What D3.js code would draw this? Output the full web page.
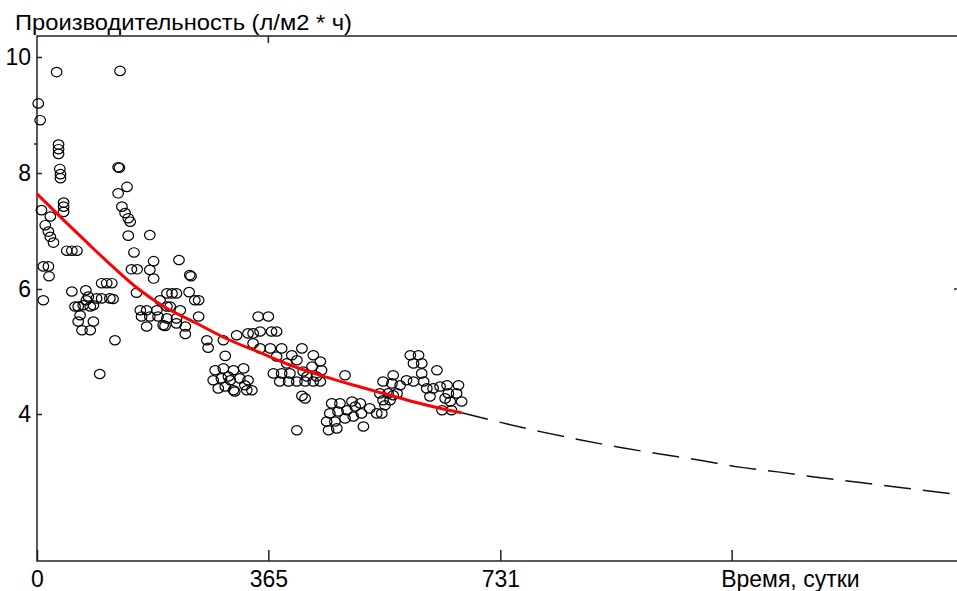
<!DOCTYPE html>
<html>
<head>
<meta charset="utf-8">
<script src="https://cdn.jsdelivr.net/npm/d3@7"></script>
<style>
  body { margin: 0; background: #fff; }
  text { font-family: "Liberation Sans", Arial, sans-serif; fill: #000; }
</style>
</head>
<body>
<script>
// ---------- data ----------
// measured points: day, productivity (l/m2*h)
var days = [31,131,2,5,34,34,34,36,37,37,128,130,142,128,42,42,42,7,134,139,144,147,21,13,18,21,26,144,178,
  47,55,63,153,10,18,19,149,158,184,178,184,224,241,243,55,77,102,110,118,157,205,213,220,240,10,255,249,
  65,78,81,89,94,102,115,120,60,73,84,163,173,194,205,210,226,189,255,68,65,89,71,84,165,178,191,205,220,
  173,199,202,220,234,234,123,268,270,294,297,99,
  281,294,310,326,278,291,305,320,333,286,310,331,297,312,339,
  315,333,341,352,370,378,349,365,341,352,368,386,402,418,436,378,394,410,447,373,386,399,420,434,449,
  383,397,410,423,436,447,426,441,486,302,328,418,423,410,
  465,478,497,510,525,536,462,475,489,502,457,470,486,499,512,460,473,515,
  546,562,541,554,568,546,557,589,602,594,607,631,607,594,610,615,625,636,647,665,620,649,662,652,670,
  639,654,560,573,562,544,549,583,644];
var prod = [9.74,9.76,9.20,8.91,8.49,8.41,8.33,8.07,7.98,7.91,8.10,8.09,7.76,7.65,7.49,7.42,7.33,7.36,7.42,7.31,7.22,7.16,7.25,7.10,6.99,6.90,6.80,6.92,6.93,
  6.66,6.66,6.66,6.63,6.39,6.39,6.22,6.34,6.34,6.48,6.33,6.18,6.50,6.24,6.22,5.96,5.98,6.10,6.10,6.10,5.94,5.93,5.93,5.93,5.95,5.82,5.82,5.82,
  5.72,5.82,5.88,5.74,5.85,5.85,5.85,5.84,5.72,5.74,5.72,5.66,5.66,5.82,5.72,5.72,5.66,5.66,5.56,5.58,5.48,5.48,5.34,5.34,5.56,5.56,5.56,5.53,5.53,
  5.40,5.42,5.41,5.45,5.40,5.28,5.18,5.18,5.06,5.18,4.93,4.64,
  4.70,4.73,4.70,4.73,4.54,4.57,4.54,4.57,4.54,4.41,4.38,4.38,4.44,4.36,4.38,
  5.26,5.29,5.29,5.32,5.32,5.32,5.56,5.56,5.13,5.05,5.05,5.05,4.94,5.05,4.94,4.92,4.81,4.86,4.84,4.65,4.65,4.65,4.68,4.76,4.70,
  4.52,4.52,4.52,4.52,4.52,4.52,4.60,4.60,4.62,4.60,4.46,4.29,4.25,3.74,
  4.17,4.17,4.20,4.17,4.09,4.01,4.01,4.04,4.06,4.12,3.88,3.88,3.93,3.96,4.01,3.74,3.77,3.80,
  4.52,4.62,4.33,4.33,4.33,4.22,4.22,4.94,4.94,4.81,4.81,4.70,4.65,4.52,4.52,4.41,4.41,4.44,4.46,4.46,4.28,4.33,4.33,4.20,4.20,
  4.06,4.06,4.49,4.46,4.30,4.01,4.14,4.54,4.25];

// fitted curve over the measured period (red)
var fitDays = [0,40,80,120,160,200,250,300,350,400,450,500,550,600,650,670];
var fitVals = [7.64,7.21,6.79,6.38,6.00,5.72,5.46,5.20,4.99,4.78,4.61,4.46,4.32,4.18,4.06,4.02];
// forecast part (dashed)
var extDays = [670,742,798,860,923,983,1046,1109,1172,1236,1302,1365,1430,1461];
var extVals = [4.02,3.84,3.71,3.58,3.46,3.36,3.26,3.15,3.07,2.98,2.90,2.82,2.74,2.70];

var xTicks = [0, 365, 731, 1096];
var xTickLabels = ["0", "365", "731", "Время, сутки"];
var yTicks = [4, 6, 8, 10];
var yLabel = "Производительность (л/м2 * ч)";

// ---------- chart ----------
var W = 957, H = 591;
var plotTop = 36, plotBottom = 561;

var x = d3.scaleLinear().domain([0, 1461]).range([37, 963]);
var y = d3.scaleLinear().domain([4, 6, 8, 10]).range([414, 289, 173, 57]);

var svg = d3.select("body").append("svg")
    .attr("width", W)
    .attr("height", H);

// frame: left, top, bottom (right edge falls outside the picture)
var frame = svg.append("path")
    .attr("d", "M" + x(1461) + "," + plotTop + "H" + x(0) + "V" + plotBottom + "H" + x(1461))
    .attr("fill", "none")
    .attr("stroke", "#222")
    .attr("stroke-width", 1.5);

// points
svg.append("g").selectAll("ellipse")
    .data(days)
    .enter().append("ellipse")
    .attr("cx", function(d) { return x(d); })
    .attr("cy", function(d, i) { return y(prod[i]); })
    .attr("rx", 5.3)
    .attr("ry", 4.7)
    .attr("fill", "none")
    .attr("stroke", "#000")
    .attr("stroke-width", 1.2);

// curves
var line = d3.line()
    .x(function(d) { return x(d[0]); })
    .y(function(d) { return y(d[1]); })
    .curve(d3.curveMonotoneX);

svg.append("path")
    .attr("d", line(extDays.map(function(d, i) { return [d, extVals[i]]; })))
    .attr("fill", "none")
    .attr("stroke", "#111")
    .attr("stroke-width", 1.5)
    .attr("stroke-dasharray", "27,12");

svg.append("path")
    .attr("d", line(fitDays.map(function(d, i) { return [d, fitVals[i]]; })))
    .attr("fill", "none")
    .attr("stroke", "#ff0000")
    .attr("stroke-width", 3);

// x axis
var gx = svg.append("g")
    .attr("transform", "translate(0," + plotBottom + ")")
    .call(d3.axisBottom(x)
        .tickValues(xTicks)
        .tickFormat(function(d, i) { return xTickLabels[i]; })
        .tickSizeInner(-11)
        .tickSizeOuter(0)
        .tickPadding(10));

// y axis
var gy = svg.append("g")
    .attr("transform", "translate(" + x(0) + ",0)")
    .call(d3.axisLeft(y)
        .tickValues(yTicks)
        .tickFormat(d3.format("d"))
        .tickSizeInner(-5)
        .tickSizeOuter(0)
        .tickPadding(6));

[gx, gy].forEach(function(g) {
  g.select(".domain").remove();
  g.selectAll("line").attr("stroke", "#222").attr("stroke-width", 1.5);
  g.selectAll("text")
      .style("font-family", '"Liberation Sans", Arial, sans-serif')
      .style("font-size", "23px")
      .attr("fill", "#000");
});

// last x label starts at its tick
gx.selectAll(".tick text")
    .filter(function(d) { return d === 1096; })
    .attr("text-anchor", "start")
    .attr("x", -11);

// mirrored ticks on top / right edges
svg.append("line")
    .attr("x1", x(365)).attr("x2", x(365))
    .attr("y1", plotTop).attr("y2", plotTop + 7)
    .attr("stroke", "#222").attr("stroke-width", 1.5);
svg.append("line")
    .attr("x1", x(1461)).attr("x2", x(1461) - 9)
    .attr("y1", y(6)).attr("y2", y(6))
    .attr("stroke", "#222").attr("stroke-width", 1.5);
svg.append("line")
    .attr("x1", x(0)).attr("x2", x(0) - 3)
    .attr("y1", y(8.5)).attr("y2", y(8.5))
    .attr("stroke", "#222").attr("stroke-width", 1.5);

// axis title
svg.append("text")
    .attr("x", 15)
    .attr("y", 30)
    .attr("textLength", 337)
    .attr("lengthAdjust", "spacingAndGlyphs")
    .style("font-size", "22px")
    .text(yLabel);
</script>
</body>
</html>
